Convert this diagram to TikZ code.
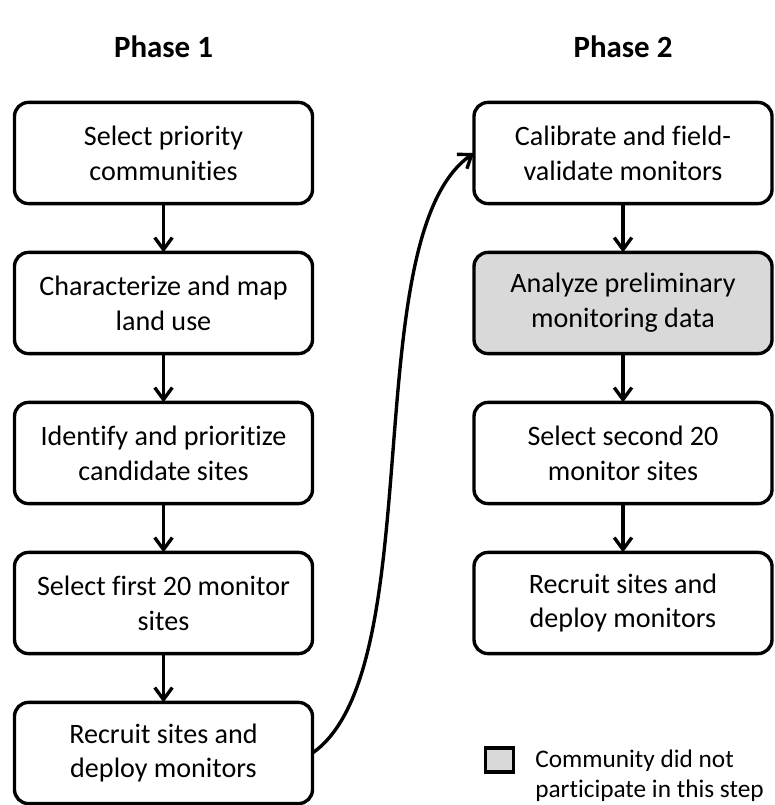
\documentclass[tikz,border=0pt]{standalone}
\usepackage{fontspec}
\setmainfont{Carlito}[Ligatures=NoCommon]
\usetikzlibrary{arrows.meta,positioning}
\definecolor{skipped}{HTML}{D9D9D9}

\begin{document}
\begin{tikzpicture}[
		stage/.style={draw, fill=#1, line width=2.4pt, rounded corners=0.35cm,
			minimum width=7.45cm, minimum height=2.53cm, outer sep=0pt,
			align=center, font=\fontsize{20}{24.8}\selectfont},
		stage/.default=white,
		phase/.style={font=\fontsize{22}{26}\selectfont\bfseries},
		arr/.style={-{Straight Barb[length=0.3cm,width=0.44cm]}, line width=2.4pt}
		]
		\useasboundingbox (0,0) rectangle (19.375,-20.125);
		
		% ── Column 1: Phase 1 ──
		\node[phase] (ph1) at (4.0875,-1.175) {Phase 1};
		\node[stage] (prio) at (4.0875,-3.825) {Select priority\\communities};
		\node[stage, below=1.22cm of prio] (landuse) {Characterize and map\\land use};
		\node[stage, below=1.22cm of landuse] (cand) {Identify and prioritize\\candidate sites};
		\node[stage, below=1.22cm of cand] (first) {Select first 20 monitor\\sites};
		\node[stage, below=1.22cm of first] (recr1) {Recruit sites and\\deploy monitors};
		
		% ── Column 2: Phase 2 ──
		\node[phase] (ph2) at (15.575,-1.175) {Phase 2};
		\node[stage] (calib) at (15.575,-3.825) {Calibrate and field-\\validate monitors};
		\node[stage=skipped, below=1.22cm of calib] (prelim) {Analyze preliminary\\monitoring data};
		\node[stage, below=1.22cm of prelim] (second) {Select second 20\\monitor sites};
		\node[stage, below=1.22cm of second] (recr2) {Recruit sites and\\deploy monitors};
		
		% ── Legend ──
		\node[draw, fill=skipped, line width=2.4pt, minimum width=0.7cm,
			minimum height=0.6cm, inner sep=0pt] (legbox) at (12.4875,-19.0) {};
		\node[anchor=base west, align=left, inner sep=0pt,
			font=\fontsize{18}{21.3}\selectfont] (legtxt) at (13.375,-19.925)
			{Community did not\\participate in this step};
		
		% Arrows within each phase
		\draw[arr] (prio)    -- (landuse);
		\draw[arr] (landuse) -- (cand);
		\draw[arr] (cand)    -- (first);
		\draw[arr] (first)   -- (recr1);
		\draw[arr] (calib)   -- (prelim);
		\draw[arr] (prelim)  -- (second);
		\draw[arr] (second)  -- (recr2);
		
		% Arrow from phase 1 to phase 2
		\draw[arr] (recr1.east) to[out=35, in=215, looseness=0.6] (calib.west);
	\end{tikzpicture}
\end{document}
